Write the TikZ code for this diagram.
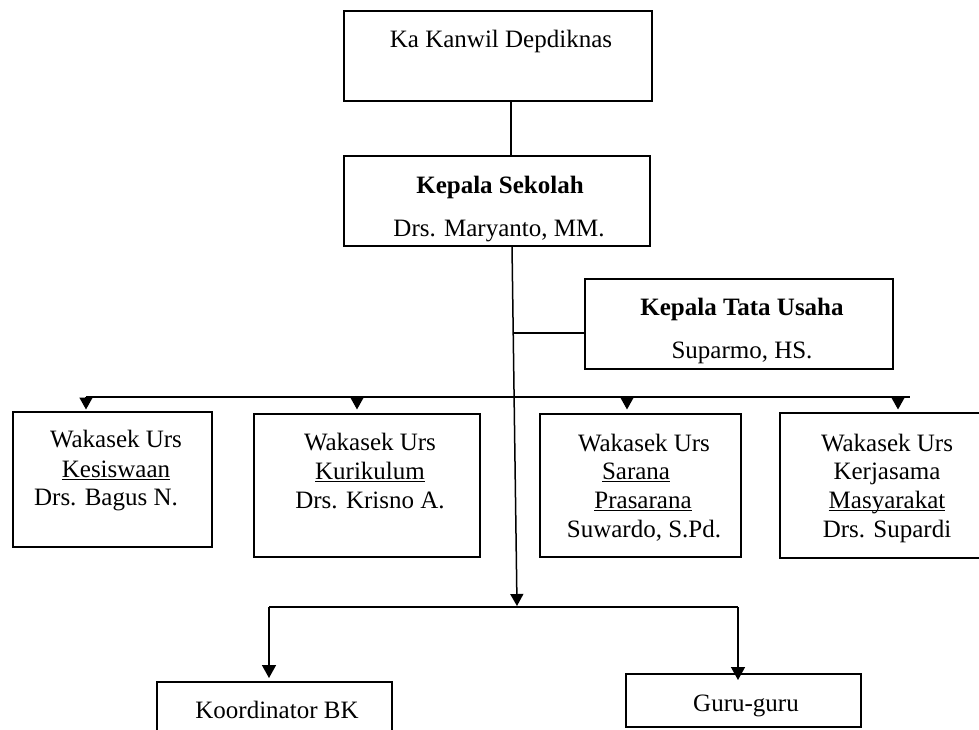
\documentclass[tikz,border=0pt]{standalone}
\usepackage{fontspec}
\setmainfont{Liberation Serif}
\usetikzlibrary{arrows.meta}
\newcommand{\myul}[1]{\setbox0\hbox{#1}\rlap{\rule[-3.2pt]{\wd0}{1.3pt}}\box0}
\begin{document}
\begin{tikzpicture}[x=1pt,y=-1pt,
  box/.style={draw, line width=1.6pt, inner sep=0pt, outer sep=0pt},
  txt/.style={anchor=base, inner sep=0pt, font=\fontsize{25}{29}\selectfont},
  btxt/.style={anchor=base, inner sep=0pt, font=\fontsize{25}{29}\selectfont\bfseries},
  conn/.style={line width=1.5pt},
  arr/.style={conn, -{Triangle[width=13pt,length=12pt]}},
  arrb/.style={conn, -{Triangle[width=14pt,length=13pt]}}]
\clip (0,0) rectangle (979,729);
\fill[white] (0,0) rectangle (979,729);
% boxes
\node[box, minimum width=308pt, minimum height=90pt] (b1) at (498,56) {};
\node[box, minimum width=306pt, minimum height=90pt] (b2) at (497,201) {};
\node[box, minimum width=308pt, minimum height=90pt] (tu) at (739,324) {};
\node[box, minimum width=199pt, minimum height=135pt] (k1) at (112.5,479.5) {};
\node[box, minimum width=226pt, minimum height=143pt] (k2) at (367,485.5) {};
\node[box, minimum width=201pt, minimum height=143pt] (k3) at (640.5,485.5) {};
\node[box, minimum width=214pt, minimum height=145pt] (k4) at (887,485.5) {};
\node[box, minimum width=235pt, minimum height=78pt] (bk) at (274.5,721) {};
\node[box, minimum width=235pt, minimum height=53pt] (gg) at (743.5,700.5) {};
% texts
\node[txt] (t1) at (501,47) {Ka Kanwil Depdiknas};
\node[btxt] (t2a) at (500,193) {Kepala Sekolah};
\node[txt] (t2b) at (499,236) {Drs. Maryanto, MM.};
\node[btxt] (t3a) at (742,315) {Kepala Tata Usaha};
\node[txt] (t3b) at (742,358) {Suparmo, HS.};
\node[txt] (k1a) at (116,447) {Wakasek Urs};
\node[txt] (k1b) at (116,477) {\myul{Kesiswaan}};
\node[txt] (k1c) at (106,505) {Drs. Bagus N.};
\node[txt] (k2a) at (370,450) {Wakasek Urs};
\node[txt] (k2b) at (370,479) {\myul{Kurikulum}};
\node[txt] (k2c) at (370,508) {Drs. Krisno A.};
\node[txt] (k3a) at (644,451) {Wakasek Urs};
\node[txt] (k3b) at (636,479) {\myul{Sarana}};
\node[txt] (k3c) at (643,508) {\myul{Prasarana}};
\node[txt] (k3d) at (644,537) {Suwardo, S.Pd.};
\node[txt] (k4a) at (887,451) {Wakasek Urs};
\node[txt] (k4b) at (887,479) {Kerjasama};
\node[txt] (k4c) at (887,508) {\myul{Masyarakat}};
\node[txt] (k4d) at (887,537) {Drs. Supardi};
\node[txt] (bkt) at (277,718) {Koordinator BK};
\node[txt] (ggt) at (746,711) {Guru-guru};
% connectors
\draw[conn] ([xshift=13pt]b1.south) -- ([xshift=14pt]b2.north);
\coordinate (sp) at (517,606);
\draw[arr] ([xshift=15pt]b2.south) -- (sp);
\coordinate (ts) at (513,333);
\draw[conn] (ts) -- (ts -| tu.west);
\coordinate (barL) at (86,397);
\coordinate (barR) at (910,397);
\draw[conn] (barL) -- (barR);
\coordinate (a1) at (86,409.5);
\coordinate (a2) at (357,409.5);
\coordinate (a3) at (627,409.5);
\coordinate (a4) at (898,409.5);
\draw[arr] (a1 |- barL) -- (a1);
\draw[arr] (a2 |- barL) -- (a2);
\draw[arr] (a3 |- barL) -- (a3);
\draw[arr] (a4 |- barL) -- (a4);
\coordinate (lbL) at (269,607);
\coordinate (lbR) at (738,607);
\draw[conn] (lbL) -- (lbR);
\draw[arrb] (lbL) -- ([yshift=4pt]bk.north -| lbL);
\draw[arrb] (lbR) -- ([yshift=-6pt]gg.north -| lbR);
\end{tikzpicture}
\end{document}
